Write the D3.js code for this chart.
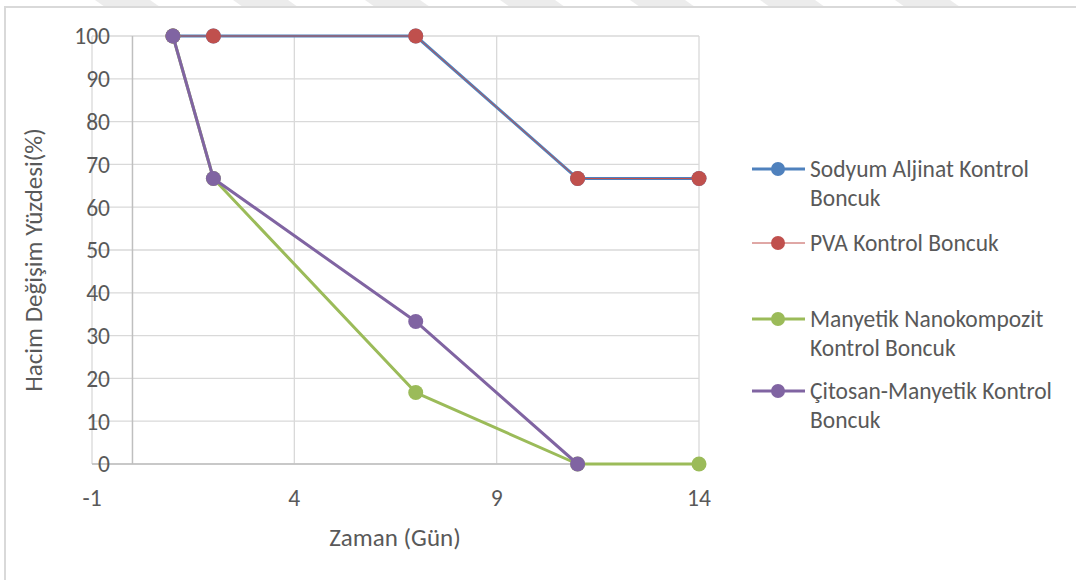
<!DOCTYPE html>
<html>
<head>
<meta charset="utf-8">
<script src="https://cdn.jsdelivr.net/npm/d3@7"></script>
<style>
  body { margin:0; background:#fff; }
  svg { display:block; font-family: Carlito, Lato, "Open Sans", sans-serif; }
</style>
</head>
<body>
<svg id="chart" width="1076" height="580"></svg>
<script>
// days and series values (%)
const days       = [1, 2, 7, 11, 14];
const sodyum     = [100, 100, 100, 66.7, 66.7];
const pva        = [100, 100, 100, 66.7, 66.7];
const manyetik   = [100, 66.7, 16.7, 0, 0];
const citosan    = [100, 66.7, 33.3, 0];
const xTicks     = [-1, 4, 9, 14];
const yTicks     = d3.range(0, 101, 10);

const series = [
  { name: ['Sodyum Aljinat Kontrol', 'Boncuk'], values: sodyum,   color: '#4f81bd', width: 3, ly: 169 },
  { name: ['PVA Kontrol Boncuk'],                values: pva,      color: '#c0504d', width: 1, ly: 243 },
  { name: ['Manyetik Nanokompozit', 'Kontrol Boncuk'], values: manyetik, color: '#9bbb59', width: 3, ly: 319 },
  { name: ['Çitosan-Manyetik Kontrol', 'Boncuk'], values: citosan, color: '#8064a2', width: 3, ly: 391 }
];

const svg = d3.select('#chart');

// faint watermark shapes along the top edge
const wm = [130, 268, 400, 535, 665, 795, 930];
svg.selectAll('.wm').data(wm).join('path')
  .attr('class', 'wm')
  .attr('d', c => `M${c-35},0 L${c+20},0 L${c+30},7 L${c-25},7 Z`)
  .attr('fill', '#ececec');

// chart frame
svg.append('rect')
  .attr('x', 5).attr('y', 7).attr('width', 1090).attr('height', 600)
  .attr('fill', 'none').attr('stroke', '#d9d9d9').attr('stroke-width', 2);

const x = d3.scaleLinear().domain([-1, 14]).range([92, 699]);
const y = d3.scaleLinear().domain([0, 100]).range([464, 36]);

const grid = svg.append('g');
grid.selectAll('.hg').data(yTicks).join('line')
  .attr('x1', x(-1)).attr('x2', x(14))
  .attr('y1', d => y(d)).attr('y2', d => y(d))
  .attr('stroke', '#d9d9d9').attr('stroke-width', 1.3);
grid.selectAll('.vg').data(xTicks).join('line')
  .attr('x1', d => x(d)).attr('x2', d => x(d))
  .attr('y1', y(0)).attr('y2', y(100))
  .attr('stroke', '#d9d9d9').attr('stroke-width', 1.3);

// axes lines
svg.append('line')
  .attr('x1', x(0)).attr('x2', x(0)).attr('y1', y(0)).attr('y2', y(100))
  .attr('stroke', '#bfbfbf').attr('stroke-width', 1.5);
svg.append('line')
  .attr('x1', x(-1)).attr('x2', x(14)).attr('y1', y(0)).attr('y2', y(0))
  .attr('stroke', '#bfbfbf').attr('stroke-width', 1.5);

// tick labels
svg.selectAll('.yt').data(yTicks).join('text')
  .attr('x', 110).attr('y', d => y(d)).attr('dy', '0.36em')
  .attr('text-anchor', 'end').attr('font-size', 23.5).attr('fill', '#595959')
  .text(d => d);
svg.selectAll('.xt').data(xTicks).join('text')
  .attr('x', d => x(d)).attr('y', 498).attr('dy', '0.36em')
  .attr('text-anchor', 'middle').attr('font-size', 23.5).attr('fill', '#595959')
  .text(d => d);

// axis titles
svg.append('text')
  .attr('x', 395).attr('y', 537).attr('dy', '0.35em')
  .attr('text-anchor', 'middle').attr('font-size', 25).attr('fill', '#595959')
  .text('Zaman (Gün)');
svg.append('text')
  .attr('transform', 'translate(33,260) rotate(-90)')
  .attr('dy', '0.35em')
  .attr('text-anchor', 'middle').attr('font-size', 25).attr('fill', '#595959')
  .text('Hacim Değişim Yüzdesi(%)');

// lines + markers
const line = d3.line().x((d, i) => x(days[i])).y(d => y(d));
series.forEach(s => {
  const g = svg.append('g');
  g.append('path').datum(s.values)
    .attr('d', line).attr('fill', 'none')
    .attr('stroke', s.color).attr('stroke-width', s.width)
    .attr('stroke-linejoin', 'round');
  g.selectAll('circle').data(s.values).join('circle')
    .attr('cx', (d, i) => x(days[i])).attr('cy', d => y(d))
    .attr('r', 7.5).attr('fill', s.color);
});

// legend
const lg = svg.append('g');
series.forEach(s => {
  const it = lg.append('g');
  it.append('line')
    .attr('x1', 752).attr('x2', 805).attr('y1', s.ly).attr('y2', s.ly)
    .attr('stroke', s.color).attr('stroke-width', s.width);
  it.append('circle').attr('cx', 778).attr('cy', s.ly).attr('r', 7).attr('fill', s.color);
  it.selectAll('text').data(s.name).join('text')
    .attr('x', 810).attr('y', (d, i) => s.ly + i * 29).attr('dy', '0.35em')
    .attr('font-size', 23.5).attr('fill', '#595959')
    .text(d => d);
});
</script>
</body>
</html>
